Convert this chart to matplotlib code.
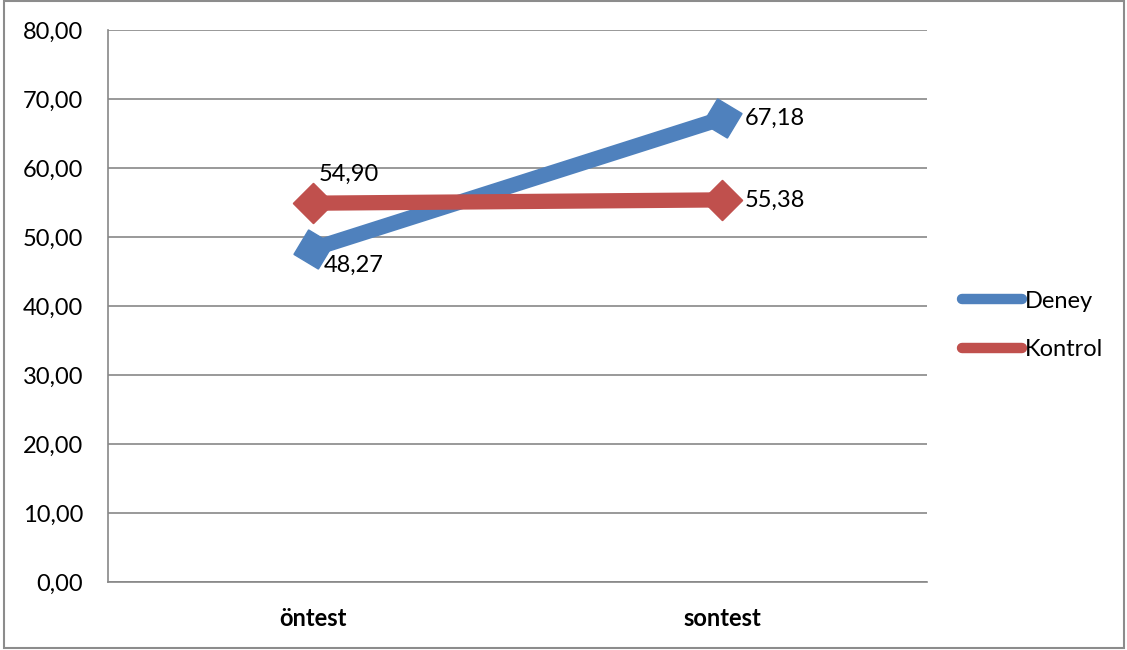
import matplotlib
matplotlib.use("Agg")
import matplotlib.pyplot as plt
from matplotlib.patches import Rectangle
from matplotlib.lines import Line2D

categories = ["öntest", "sontest"]
series_names = ["Deney", "Kontrol"]
deney = [48.27, 67.18]
kontrol = [54.90, 55.38]
yticks = [0, 10, 20, 30, 40, 50, 60, 70, 80]

plt.rcParams['font.family'] = ['Lato', 'DejaVu Sans']

blue = "#4F81BD"
red = "#C0504D"
grid_c = "#878787"
FS = 17

fig = plt.figure(figsize=(11.27, 6.5), dpi=100)
ax = fig.add_axes([108/1127, 68/650, 819/1127, 552/650])

x = list(range(len(categories)))
ax.plot(x, deney, color=blue, lw=11, marker=(4, 0, 14), ms=29,
        mfc=blue, mec=blue, mew=1, solid_joinstyle='miter', zorder=3, label=series_names[0])
ax.plot(x, kontrol, color=red, lw=11, marker=(4, 0, 0), ms=29,
        mfc=red, mec=red, mew=1, zorder=4, label=series_names[1])

def fmt(v):
    return f"{v:.2f}".replace(".", ",")

# data labels
ax.annotate(fmt(deney[0]), (x[0], deney[0]), xytext=(8, -12), textcoords='offset points',
            ha='left', va='center', fontsize=FS, zorder=5)
ax.annotate(fmt(deney[1]), (x[1], deney[1]), xytext=(16, 0), textcoords='offset points',
            ha='left', va='center', fontsize=FS, zorder=5)
ax.annotate(fmt(kontrol[0]), (x[0], kontrol[0]), xytext=(4, 21), textcoords='offset points',
            ha='left', va='center', fontsize=FS, zorder=5)
ax.annotate(fmt(kontrol[1]), (x[1], kontrol[1]), xytext=(16, 0), textcoords='offset points',
            ha='left', va='center', fontsize=FS, zorder=5)

ax.set_xlim(-0.5, 1.5)
ax.set_ylim(0, 80)
ax.set_yticks(yticks)
ax.set_yticklabels([fmt(v) for v in yticks], fontsize=FS)
ax.set_xticks(x)
ax.set_xticklabels(categories, fontsize=FS, fontweight='bold')
ax.tick_params(axis='y', length=0, pad=18)
ax.tick_params(axis='x', length=0, pad=18)
ax.yaxis.grid(True, color=grid_c, lw=1.2)
ax.set_axisbelow(True)
for s in ['top', 'right']:
    ax.spines[s].set_visible(False)
for s in ['left', 'bottom']:
    ax.spines[s].set_color(grid_c)
    ax.spines[s].set_linewidth(1.2)

handles = [Line2D([], [], color=blue, lw=7.5, solid_capstyle='round'),
           Line2D([], [], color=red, lw=7.5, solid_capstyle='round')]
fig.legend(handles, series_names, loc='center left',
           bbox_to_anchor=(962/1127, (650-325.5)/650), frameon=False,
           fontsize=FS, handlelength=2.55, handletextpad=0.1, labelspacing=1.18,
           borderpad=0, borderaxespad=0)

fig.add_artist(Rectangle((4/1127, 2/650), 1120/1127, 647/650, transform=fig.transFigure,
                         fill=False, edgecolor="#8c8c8c", lw=1.5))

fig.savefig("out.png", dpi=100)
